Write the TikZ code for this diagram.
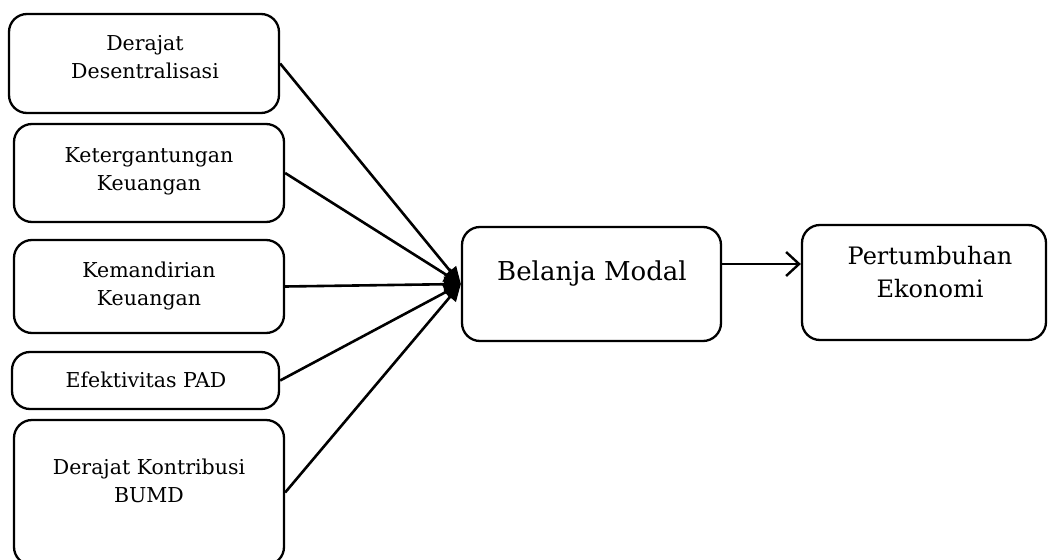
\documentclass[tikz,border=0pt]{standalone}
\usepackage{fontspec}
\setmainfont{DejaVu Serif}
\usetikzlibrary{arrows.meta}
\tikzset{
  box/.style={draw, line width=2.3pt, rounded corners=18pt, inner sep=0pt},
  txt/.style={align=center, anchor=north, inner sep=0pt, font=\fontsize{20.5}{28}\selectfont},
  bigtxt/.style={align=center, anchor=north, inner sep=0pt, font=\fontsize{26}{33}\selectfont},
  feed/.style={line width=2.6pt, -{Triangle[length=17pt,width=15pt]}},
  lead/.style={line width=2.4pt, -{Straight Barb[length=13pt,width=24pt,line width=2.4pt]}},
}
\begin{document}
\begin{tikzpicture}[x=1pt,y=-1pt]
\useasboundingbox (0,0) rectangle (1048,559);
% input boxes
\node[box, minimum width=270pt, minimum height=99pt] (b1) at (144,63.5) {};
\node[box, minimum width=270pt, minimum height=98pt] (b2) at (149,173) {};
\node[box, minimum width=270pt, minimum height=93pt] (b3) at (149,286.5) {};
\node[box, minimum width=267pt, minimum height=57pt] (b4) at (145.5,380.5) {};
\node[box, minimum width=270pt, minimum height=145pt] (b5) at (149,492.5) {};
% outcome boxes
\node[box, minimum width=259pt, minimum height=114pt] (bm) at (591.5,284) {};
\node[box, minimum width=244pt, minimum height=115pt] (pe) at (924,282.5) {};
% labels
\node[txt] (t1) at (145,35) {Derajat\\Desentralisasi};
\node[txt] (t2) at (149,147) {Ketergantungan\\Keuangan};
\node[txt] (t3) at (149,261.5) {Kemandirian\\Keuangan};
\node[txt] (t4) at (146,372) {Efektivitas PAD};
\node[txt] (t5) at (149,459) {Derajat Kontribusi\\BUMD};
\node[bigtxt] (tm) at (592,261) {Belanja Modal};
\node[bigtxt, font=\fontsize{24}{33}\selectfont] (tp) at (930,246) {Pertumbuhan\\Ekonomi};
% connectors
\draw[feed] (b1.east) -- (bm.west);
\draw[feed] (b2.east) -- (bm.west);
\draw[feed] (b3.east) -- (bm.west);
\draw[feed] (b4.east) -- (bm.west);
\draw[feed] (b5.east) -- (bm.west);
\draw[lead] ([yshift=20pt]bm.east) -- ([yshift=18.5pt]pe.west);
\end{tikzpicture}
\end{document}
